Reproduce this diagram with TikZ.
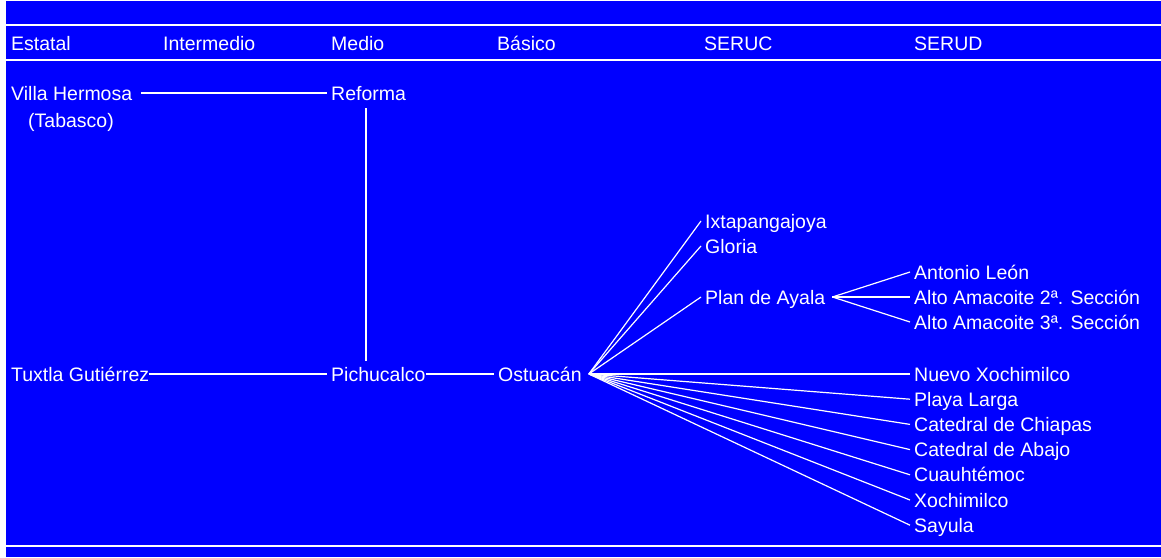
\documentclass[tikz,border=0pt]{standalone}
\usepackage{fontspec}
\setmainfont{Liberation Sans}
\usetikzlibrary{calc}
\definecolor{bg}{RGB}{0,0,255}
\begin{document}
\begin{tikzpicture}[x=1pt,y=-1pt,
  lbl/.style={anchor=west,inner xsep=4pt,inner ysep=0pt,text=white,
    font=\fontsize{19.5}{22}\selectfont,text height=16pt,text depth=2pt},
  conn/.style={draw=white,line width=1.2pt},
  rule/.style={draw=white,line width=1.6pt}]
\fill[white] (0,0) rectangle (1161,557);
\useasboundingbox (0,0) rectangle (1161,557);
\fill[bg] (6,1) rectangle (1161,557);
% rules
\coordinate (r1l) at (6,25);  \coordinate (r1r) at (1161,25);
\coordinate (r2l) at (6,60);  \coordinate (r2r) at (1161,60);
\coordinate (r3l) at (6,546); \coordinate (r3r) at (1161,546);
\draw[rule] (r1l) -- (r1r);
\draw[rule] (r2l) -- (r2r);
\draw[rule] (r3l) -- (r3r);
% header
\node[lbl] (hE) at (7,43) {Estatal};
\node[lbl] (hI) at (159,43) {Intermedio};
\node[lbl] (hM) at (327,43) {Medio};
\node[lbl] (hB) at (493,43) {Básico};
\node[lbl] (hC) at (700,43) {SERUC};
\node[lbl] (hD) at (910,43) {SERUD};
% nodes
\node[lbl] (villa) at (7,93) {Villa Hermosa};
\node[lbl] (tab) at (24,120) {(Tabasco)};
\node[lbl] (reforma) at (327,93) {Reforma};
\node[lbl] (tuxtla) at (7,374) {Tuxtla Gutiérrez};
\node[lbl] (pichu) at (327,374) {Pichucalco};
\node[lbl] (ostu) at (494,374) {Ostuacán};
\node[lbl] (ixta) at (701,221) {Ixtapangajoya};
\node[lbl] (gloria) at (701,246) {Gloria};
\node[lbl] (plan) at (701,297) {Plan de Ayala};
\node[lbl] (anton) at (910,272) {Antonio León};
\node[lbl] (alto2) at (910,297) {Alto Amacoite 2ª. Sección};
\node[lbl] (alto3) at (910,322) {Alto Amacoite 3ª. Sección};
\node[lbl] (nuevo) at (910,374) {Nuevo Xochimilco};
\node[lbl] (playa) at (910,399.2) {Playa Larga};
\node[lbl] (catch) at (910,424.4) {Catedral de Chiapas};
\node[lbl] (catab) at (910,449.6) {Catedral de Abajo};
\node[lbl] (cuau) at (910,474.8) {Cuauhtémoc};
\node[lbl] (xochi) at (910,500) {Xochimilco};
\node[lbl] (sayula) at (910,525.2) {Sayula};
% connectors
\draw[conn,shorten <=5pt] (villa.east) -- (reforma.west);
\draw[conn] ([xshift=39pt,yshift=-6pt]reforma.south west) -- ([xshift=39pt,yshift=4pt]pichu.north west);
\draw[conn,shorten <=-4pt] (tuxtla.east) -- (pichu.west);
\draw[conn,shorten <=-4pt] (pichu.east) -- (ostu.west);
\coordinate (f) at ($(ostu.east)+(3,0)$);
\foreach \t in {ixta,gloria,plan,nuevo,playa,catch,catab,cuau,xochi,sayula}
  \draw[conn] (f) -- (\t.west);
\coordinate (p) at ($(plan.east)+(3,0)$);
\foreach \t in {anton,alto2,alto3}
  \draw[conn] (p) -- (\t.west);
\end{tikzpicture}
\end{document}
